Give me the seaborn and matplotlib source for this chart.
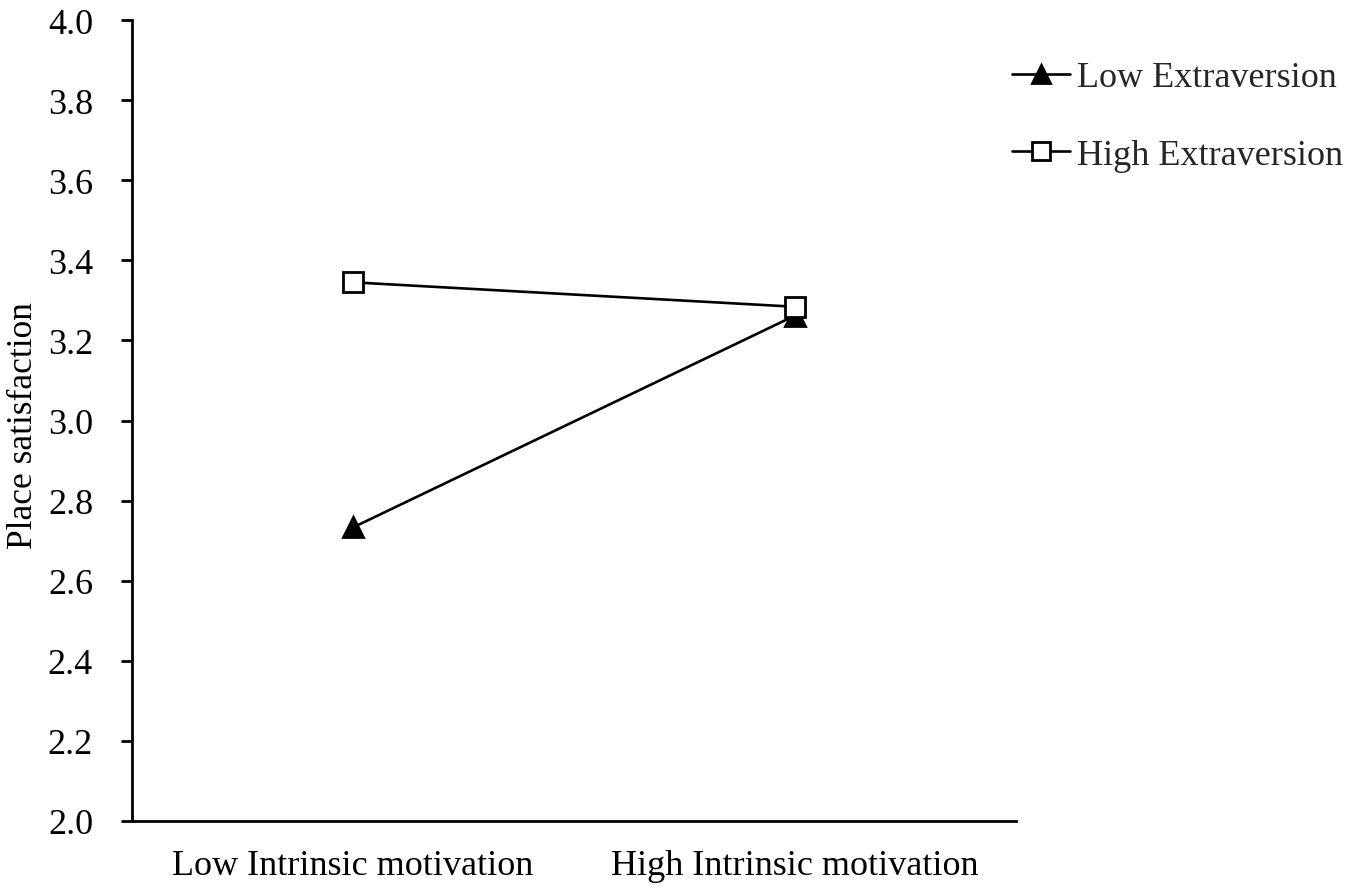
import matplotlib
matplotlib.use("Agg")
import matplotlib.pyplot as plt
from matplotlib.lines import Line2D
import seaborn as sns
import pandas as pd

categories = ["Low Intrinsic motivation", "High Intrinsic motivation"]
low_extraversion = [2.733, 3.262]
high_extraversion = [3.345, 3.284]
series_names = ["Low Extraversion", "High Extraversion"]
y_ticks = [2.0, 2.2, 2.4, 2.6, 2.8, 3.0, 3.2, 3.4, 3.6, 3.8, 4.0]

df = pd.DataFrame({
    "motivation": categories * 2,
    "value": low_extraversion + high_extraversion,
    "group": [series_names[0]] * 2 + [series_names[1]] * 2,
})

sns.set_theme(style="white")
plt.rcParams["font.family"] = ["Liberation Serif", "DejaVu Serif"]

fig = plt.figure(figsize=(13.46, 8.87), dpi=100)
ax = fig.add_axes([132 / 1346, 1 - 822 / 887, (1016 - 132) / 1346, (822 - 21) / 887])

sns.pointplot(data=df, x="motivation", y="value", hue="group",
              order=categories, hue_order=series_names,
              palette={series_names[0]: "black", series_names[1]: "black"},
              markers=["^", "s"], linestyles=["-", "-"], errorbar=None,
              markersize=14, markeredgewidth=2.0, linewidth=1.9, ax=ax)

for ln in ax.lines:
    if ln.get_marker() == "s":
        ln.set_markerfacecolor("white")
        ln.set_zorder(4)

leg = ax.get_legend()
if leg is not None:
    leg.remove()

ax.set_xlim(-0.5, 1.5)
ax.set_ylim(2.0, 4.0)
ax.set_yticks(y_ticks)
ax.set_yticklabels([f"{t:.1f}" for t in y_ticks])
ax.set_xlabel("")
ax.set_ylabel("Place satisfaction", fontsize=25.5, color="black")
ax.yaxis.set_label_coords(-0.104, 0.495)

for s in ["top", "right"]:
    ax.spines[s].set_visible(False)
for s in ["left", "bottom"]:
    ax.spines[s].set_color("black")
    ax.spines[s].set_linewidth(2.0)

ax.tick_params(axis="y", which="major", direction="out", length=8, width=2.0,
               color="black", labelsize=26, labelcolor="black", pad=20, left=True)
ax.tick_params(axis="x", length=0, labelsize=26, labelcolor="black", pad=20)

handles = [
    Line2D([], [], color="black", marker="^", markersize=13, linewidth=1.9,
           markerfacecolor="black", markeredgewidth=2.0),
    Line2D([], [], color="black", marker="s", markersize=13, linewidth=1.9,
           markerfacecolor="white", markeredgewidth=2.0),
]
fig.legend(handles, series_names, loc="upper left",
           bbox_to_anchor=(1012 / 1346, 1 - 62 / 887), frameon=False,
           fontsize=26, handlelength=1.6, handletextpad=0.2, labelspacing=1.22,
           borderaxespad=0, borderpad=0)

fig.savefig("out.png", dpi=100, facecolor="white")
